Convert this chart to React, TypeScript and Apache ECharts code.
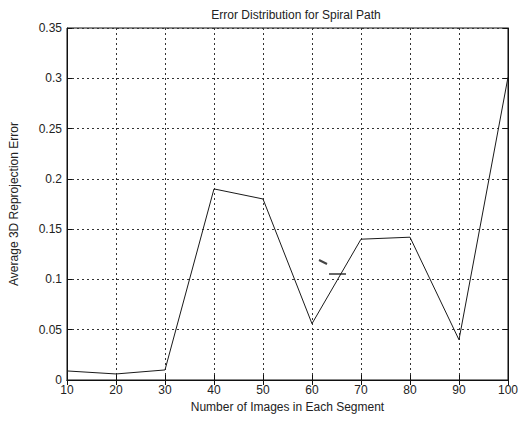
import React, { useEffect, useRef } from "react";
import * as echarts from "echarts";

const xValues = [10, 20, 30, 40, 50, 60, 70, 80, 90, 100];
const errorValues = [0.009, 0.006, 0.01, 0.19, 0.18, 0.056, 0.14, 0.142, 0.04, 0.301];
const titleText = "Error Distribution for Spiral Path";
const xLabel = "Number of Images in Each Segment";
const yLabel = "Average 3D Reprojection Error";

export default function App() {
  const ref = useRef<HTMLDivElement>(null);
  useEffect(() => {
    if (!ref.current) return;
    const chart = echarts.init(ref.current, null, { renderer: "svg" });
    const font = "Liberation Sans, Arial, sans-serif";
    const gridLine = { show: true, lineStyle: { color: "#333", type: [2, 3] as any, width: 1 } };
    const baseAxis = {
      axisLine: { show: true, lineStyle: { color: "#111", width: 1 } },
      axisTick: { show: true, inside: true, length: 5, lineStyle: { color: "#111" } },
    };
    chart.setOption({
      animation: false,
      backgroundColor: "#fff",
      title: {
        text: titleText,
        left: 291,
        textAlign: "center",
        top: 4,
        textStyle: { fontFamily: font, fontSize: 12, fontWeight: "normal", color: "#222" },
      },
      grid: { left: 66, right: 8, top: 28, bottom: 44, show: true, borderColor: "#111", borderWidth: 1 },
      xAxis: [
        {
          ...baseAxis,
          type: "value",
          min: 10,
          max: 100,
          interval: 10,
          name: xLabel,
          nameLocation: "middle",
          nameGap: 20,
          nameTextStyle: { fontFamily: font, fontSize: 12, color: "#222" },
          axisLabel: { fontFamily: font, fontSize: 12, color: "#222", margin: 4 },
          splitLine: gridLine,
        },
        {
          ...baseAxis,
          type: "value",
          position: "top",
          min: 10,
          max: 100,
          interval: 10,
          axisLabel: { show: false },
          splitLine: { show: false },
        },
      ],
      yAxis: [
        {
          ...baseAxis,
          type: "value",
          min: 0,
          max: 0.35,
          interval: 0.05,
          name: yLabel,
          nameLocation: "middle",
          nameGap: 47,
          nameRotate: 90,
          nameTextStyle: { fontFamily: font, fontSize: 12, color: "#222" },
          axisLabel: { fontFamily: font, fontSize: 12, color: "#222", margin: 5 },
          splitLine: gridLine,
        },
        {
          ...baseAxis,
          type: "value",
          position: "right",
          min: 0,
          max: 0.35,
          interval: 0.05,
          axisLabel: { show: false },
          splitLine: { show: false },
        },
      ],
      graphic: [
        { type: "line", shape: { x1: 319, y1: 260, x2: 327, y2: 264 }, style: { stroke: "#444", lineWidth: 2 } },
        { type: "line", shape: { x1: 329, y1: 274, x2: 346, y2: 274 }, style: { stroke: "#333", lineWidth: 1.5 } },
      ],
      series: [
        {
          type: "line",
          data: xValues.map((x, i) => [x, errorValues[i]]),
          showSymbol: false,
          lineStyle: { color: "#1a1a1a", width: 1 },
          itemStyle: { color: "#1a1a1a" },
        },
      ],
    });
    return () => chart.dispose();
  }, []);
  return <div ref={ref} style={{ width: 521, height: 424, position: "absolute", left: 0, top: 0 }} />;
}
